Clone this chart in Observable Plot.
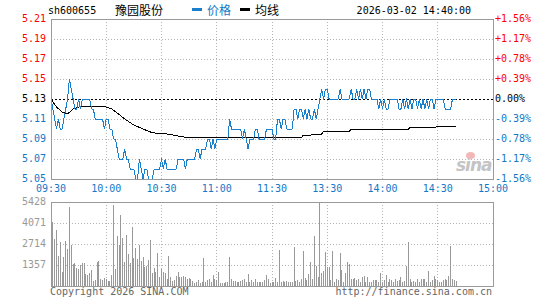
<!DOCTYPE html>
<html><head><meta charset="utf-8">
<script src="https://cdn.jsdelivr.net/npm/d3@7"></script>
<script src="https://cdn.jsdelivr.net/npm/@observablehq/plot@0.6"></script>
<style>
body{margin:0;background:#fff;}
#wrap{position:relative;width:545px;height:300px;overflow:hidden;background:#fff;font-family:"DejaVu Sans Mono",monospace;font-size:10px;}
#wrap svg{position:absolute;left:0;}
.t{position:absolute;white-space:nowrap;line-height:10px;}
.cjk{font-family:"Noto Sans CJK SC",sans-serif;font-size:12px;line-height:12px;}
</style></head><body><div id="wrap"></div>
<script>
// ---- data ----
const stockCode = "sh600655";
const stockName = "豫园股份";
const legendPrice = "价格";
const legendAvg = "均线";
const stamp = "2026-03-02 14:40:00";
const prevClose = 5.13;
const priceTicks = [5.21, 5.19, 5.17, 5.15, 5.13, 5.11, 5.09, 5.07, 5.05];
const pctLabels = ["+1.56%", "+1.17%", "+0.78%", "+0.39%", "0.00%", "-0.39%", "-0.78%", "-1.17%", "-1.56%"];
const timeTicks = [0, 30, 60, 90, 120, 150, 180, 210, 240];
const timeLabels = ["09:30", "10:00", "10:30", "11:00", "11:30", "13:30", "14:00", "14:30", "15:00"];
const volTicks = [5428, 4071, 2714, 1357];
const volLabels = ["5428", "4071", "2714", "1357"];

// per-minute price (minute 0 = 09:30, 120 = 11:30/13:00, 220 = 14:40)
const prices = [
5.13,5.12,5.11,5.10,5.11,5.10,5.10,5.11,5.12,5.13,
5.15,5.14,5.13,5.12,5.12,5.13,5.12,5.13,5.13,5.13,
5.13,5.13,5.12,5.12,5.11,5.11,5.11,5.11,5.11,5.10,
5.11,5.11,5.10,5.10,5.09,5.09,5.08,5.07,5.07,5.07,
5.08,5.07,5.07,5.06,5.06,5.06,5.05,5.05,5.07,5.06,
5.05,5.06,5.06,5.05,5.05,5.05,5.06,5.06,5.06,5.06,
5.07,5.06,5.07,5.06,5.06,5.06,5.06,5.06,5.06,5.07,
5.07,5.07,5.07,5.06,5.07,5.07,5.07,5.07,5.07,5.08,
5.08,5.07,5.08,5.08,5.08,5.09,5.09,5.08,5.09,5.08,
5.09,5.09,5.09,5.09,5.09,5.09,5.09,5.11,5.10,5.10,
5.10,5.10,5.10,5.10,5.09,5.10,5.09,5.08,5.09,5.09,
5.09,5.10,5.10,5.09,5.09,5.09,5.09,5.10,5.10,5.10,
5.10,5.09,5.09,5.11,5.11,5.10,5.11,5.11,5.10,5.10,
5.10,5.10,5.12,5.12,5.11,5.12,5.12,5.11,5.12,5.11,
5.12,5.11,5.11,5.12,5.11,5.12,5.13,5.14,5.13,5.14,
5.14,5.13,5.13,5.13,5.13,5.13,5.13,5.14,5.13,5.13,
5.13,5.13,5.13,5.14,5.13,5.13,5.14,5.13,5.14,5.13,
5.14,5.13,5.14,5.14,5.13,5.13,5.13,5.13,5.12,5.13,
5.12,5.13,5.12,5.12,5.13,5.13,5.13,5.13,5.13,5.12,
5.12,5.13,5.12,5.13,5.12,5.13,5.12,5.13,5.13,5.12,
5.13,5.12,5.13,5.12,5.13,5.12,5.13,5.13,5.12,5.13,
5.13,5.13,5.13,5.13,5.12,5.12,5.12,5.12,5.13,5.13,
5.13];

// per-minute volume (lots)
const volumes = [
1580,4090,2985,3590,1900,2830,890,1860,2880,2380,
5100,2620,1360,1430,1100,1040,1320,1450,1430,735,
670,780,1000,300,350,1510,1600,450,350,500,
430,300,300,670,5210,1040,3200,2620,4560,3050,
1510,3270,2030,1470,3760,1750,2400,1730,2600,1580,
1860,1210,1280,1640,2940,780,1100,890,2120,560,
1060,890,820,390,1900,520,300,350,600,890,
520,560,600,560,450,500,430,300,170,220,
350,170,240,1770,240,350,450,240,710,390,
350,865,170,170,170,240,200,1860,430,300,
300,220,220,280,350,430,200,735,240,350,
200,390,240,220,200,240,350,650,390,170,
240,200,475,240,2290,240,280,240,260,220,
240,220,2510,280,350,200,450,2250,500,350,
735,1540,400,3200,1250,540,5428,820,950,2180,
1170,1170,350,2250,240,390,350,2120,1000,240,
820,1530,1360,410,410,500,350,430,240,560,
600,240,560,200,240,350,350,350,240,780,
240,350,670,240,410,350,240,410,260,350,
560,240,280,1250,2820,450,240,300,200,390,
240,390,390,450,240,950,240,350,600,450,
350,240,240,350,430,350,600,2550,450,350,
300];

// average-price line, read at its break points [minute, value]
const avgMinutes = [0,3,6,9,12,15,22,30,33,36,40,45,50,54,58,63,72,80,90,136,137,141,142,147,148,162,163,194,195,209,210,220];
const avgValues  = [5.130,5.122,5.117,5.115,5.120,5.122,5.1225,5.122,5.120,5.116,5.110,5.104,5.100,5.097,5.0953,5.095,5.092,5.0915,5.0913,5.0913,5.094,5.094,5.095,5.095,5.0977,5.0977,5.0997,5.0997,5.102,5.102,5.103,5.103];

// ---- tables ----
const priceData = prices.map((p, i) => ({m: i, p}));
const volData = volumes.map((v, i) => ({m: i, v}));
const avgData = avgMinutes.map((m, i) => ({m, v: avgValues[i]}));

const RED = "#ff0000", BLUE = "#1478c8", GRID = "#b4b4b4", FRAME = "#9a9a9a";
const tickColor = d => d > prevClose + 1e-9 ? RED : (d < prevClose - 1e-9 ? BLUE : "#000");

const wrap = document.getElementById("wrap");
const font = {fontFamily: "DejaVu Sans Mono, monospace", fontSize: "10px", background: "transparent", overflow: "visible"};

const p1 = Plot.plot({
  width: 545, height: 196,
  marginLeft: 50.5, marginRight: 52.5, marginTop: 18.5, marginBottom: 17.5,
  x: {domain: [0, 240], axis: null},
  y: {domain: [5.05, 5.21], axis: null},
  color: {type: "identity"},
  style: font,
  marks: [
    Plot.ruleY(priceTicks.filter(v => v !== prevClose && v !== 5.21 && v !== 5.05), {stroke: GRID, strokeDasharray: "1,2", shapeRendering: "crispEdges"}),
    Plot.ruleX(timeTicks.slice(1, -1), {stroke: GRID, strokeDasharray: "1,2", shapeRendering: "crispEdges"}),
    Plot.ruleY([prevClose], {stroke: "#000", strokeDasharray: "2,2", shapeRendering: "crispEdges"}),
    Plot.line(avgData, {x: "m", y: "v", stroke: "#000", strokeWidth: 1, shapeRendering: "crispEdges"}),
    Plot.line(priceData, {x: "m", y: "p", stroke: "#1a7fcc", strokeWidth: 1, shapeRendering: "crispEdges"}),
    Plot.frame({stroke: FRAME, shapeRendering: "crispEdges"}),
    Plot.text(priceTicks, {x: () => 0, y: d => d, text: d => d.toFixed(2), textAnchor: "end", dx: -5, fill: tickColor}),
    Plot.text(priceTicks, {x: () => 240, y: d => d, text: (d, i) => pctLabels[i], textAnchor: "start", dx: 2, fill: tickColor}),
    Plot.text(timeTicks, {x: d => d, y: () => 5.05, text: (d, i) => timeLabels[i], dy: 10, fill: BLUE})
  ]
});
p1.style.top = "0px";
wrap.appendChild(p1);

const p2 = Plot.plot({
  width: 545, height: 104,
  marginLeft: 50.5, marginRight: 52.5, marginTop: 5.5, marginBottom: 14.5,
  x: {domain: [0, 240], axis: null},
  y: {domain: [0, 5428], axis: null},
  style: font,
  marks: [
    Plot.ruleY(volTicks.slice(1), {stroke: GRID, strokeDasharray: "1,2", shapeRendering: "crispEdges"}),
    Plot.ruleX(timeTicks.slice(1, -1), {stroke: GRID, strokeDasharray: "1,2", shapeRendering: "crispEdges"}),
    Plot.ruleX(volData, {x: "m", y1: () => 0, y2: "v", stroke: "#999", strokeWidth: 1, shapeRendering: "crispEdges"}),
    Plot.frame({stroke: FRAME, shapeRendering: "crispEdges"}),
    Plot.text(volTicks, {x: () => 0, y: d => d, text: (d, i) => volLabels[i], textAnchor: "end", dx: -5, fill: "#999"})
  ]
});
p2.style.top = "196px";
wrap.appendChild(p2);

// header / footer texts
function addText(txt, left, top, opts = {}) {
  const s = document.createElement("div");
  s.className = "t" + (opts.cjk ? " cjk" : "");
  s.textContent = txt;
  s.style.top = top + "px";
  if (opts.right != null) s.style.right = opts.right + "px"; else s.style.left = left + "px";
  s.style.color = opts.color || "#000";
  if (opts.style) Object.assign(s.style, opts.style);
  wrap.appendChild(s);
}
function addBox(left, top, w, h, color) {
  const b = document.createElement("div");
  Object.assign(b.style, {position: "absolute", left: left + "px", top: top + "px", width: w + "px", height: h + "px", background: color});
  wrap.appendChild(b);
}
addText(stockCode, 48, 6);
addText(stockName, 115, 4, {cjk: true});
addBox(192, 8, 10, 3, "#1a7fcc");
addText(legendPrice, 207, 4, {cjk: true, color: BLUE});
addBox(240, 8, 10, 3, "#000");
addText(legendAvg, 255, 4, {cjk: true});
addText(stamp, 0, 6, {right: 545 - 471});
addText("Copyright 2026 SINA.COM", 50, 287, {color: "#666"});
addText("http://finance.sina.com.cn", 0, 287, {right: 545 - 492, color: "#666"});
// watermark
addText("sina", 456, 157, {color: "#c4c4c4", style: {fontFamily: "DejaVu Sans, sans-serif", fontStyle: "italic", fontWeight: "bold", fontSize: "17px", lineHeight: "17px", letterSpacing: "-1px"}});
const eye = document.createElement("div");
Object.assign(eye.style, {position: "absolute", left: "466px", top: "152px", width: "9px", height: "7px", borderRadius: "50%", background: "#f2b8b8"});
wrap.appendChild(eye);
</script></body></html>
